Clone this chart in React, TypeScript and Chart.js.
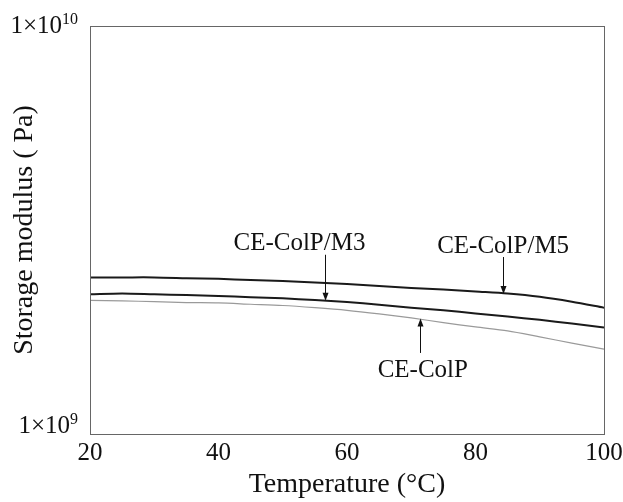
import React, { useEffect, useRef } from 'react';
import { Chart, registerables } from 'chart.js';

Chart.register(...registerables);

const temperatures = [20, 25, 30, 35, 40, 45, 50, 55, 60, 65, 70, 75, 80, 85, 90, 95, 100];
const modulusM5 = [2.42e9, 2.42e9, 2.42e9, 2.41e9, 2.40e9, 2.385e9, 2.37e9, 2.35e9, 2.33e9, 2.305e9, 2.28e9, 2.26e9, 2.235e9, 2.21e9, 2.17e9, 2.11e9, 2.04e9];
const modulusM3 = [2.20e9, 2.21e9, 2.20e9, 2.19e9, 2.18e9, 2.165e9, 2.15e9, 2.13e9, 2.105e9, 2.075e9, 2.04e9, 2.01e9, 1.975e9, 1.94e9, 1.905e9, 1.865e9, 1.825e9];
const modulusColP = [2.125e9, 2.12e9, 2.11e9, 2.10e9, 2.095e9, 2.08e9, 2.065e9, 2.04e9, 2.01e9, 1.97e9, 1.925e9, 1.875e9, 1.83e9, 1.79e9, 1.73e9, 1.67e9, 1.615e9];

const seriesNames = ['CE-ColP/M5', 'CE-ColP/M3', 'CE-ColP'];
const xTicks = [20, 40, 60, 80, 100];
const yTicks = [1e9, 1e10];
const yTickBase = ['1×10', '1×10'];
const yTickExponent = ['9', '10'];

// annotation: label position (x, y baseline value), arrow x, arrow tail value, arrow tip value
const annotationTexts = ['CE-ColP/M3', 'CE-ColP/M5', 'CE-ColP'];
const annotationLabelX = [52.6, 84.3, 71.8];
const annotationLabelY = [2.825e9, 2.777e9, 1.38e9];
const annotationArrowX = [56.5, 84.3, 71.4];
const annotationArrowFrom = [2.75e9, 2.715e9, 1.58e9];
const annotationArrowTo = [2.12e9, 2.205e9, 1.92e9];

const FONT = "'Liberation Serif', 'Times New Roman', serif";

const toPoints = (vals: number[]) => temperatures.map((t, i) => ({ x: t, y: vals[i] }));

const annotationPlugin = {
  id: 'arrowLabels',
  afterDatasetsDraw(chart: any) {
    const { ctx, scales } = chart;
    const xs = scales.x;
    const ys = scales.y;
    ctx.save();
    ctx.fillStyle = '#111';
    ctx.strokeStyle = '#111';
    ctx.lineWidth = 1;
    ctx.font = `25px ${FONT}`;
    ctx.textAlign = 'center';
    ctx.textBaseline = 'alphabetic';
    for (let i = 0; i < annotationTexts.length; i++) {
      ctx.fillText(annotationTexts[i], xs.getPixelForValue(annotationLabelX[i]), ys.getPixelForValue(annotationLabelY[i]));
      const ax = Math.round(xs.getPixelForValue(annotationArrowX[i])) + 0.5;
      const y0 = ys.getPixelForValue(annotationArrowFrom[i]);
      const y1 = ys.getPixelForValue(annotationArrowTo[i]);
      const dir = y1 > y0 ? 1 : -1;
      ctx.beginPath();
      ctx.moveTo(ax, y0);
      ctx.lineTo(ax, y1 - dir * 2);
      ctx.stroke();
      ctx.beginPath();
      ctx.moveTo(ax, y1);
      ctx.lineTo(ax - 3, y1 - dir * 8);
      ctx.lineTo(ax + 3, y1 - dir * 8);
      ctx.closePath();
      ctx.fill();
    }
    ctx.restore();
  },
};

// y tick labels with a real superscript exponent
const yLabelPlugin = {
  id: 'yPowerLabels',
  afterDraw(chart: any) {
    const { ctx, scales, chartArea } = chart;
    const ys = scales.y;
    const rightEdge = chartArea.left - 12;
    const baselineShift = [-1, 7];
    ctx.save();
    ctx.fillStyle = '#111';
    ctx.textBaseline = 'alphabetic';
    ctx.textAlign = 'left';
    for (let i = 0; i < yTicks.length; i++) {
      const base = ys.getPixelForValue(yTicks[i]) + baselineShift[i];
      ctx.font = `16px ${FONT}`;
      const expW = ctx.measureText(yTickExponent[i]).width;
      ctx.font = `25px ${FONT}`;
      const baseW = ctx.measureText(yTickBase[i]).width;
      const startX = rightEdge - expW - baseW;
      ctx.fillText(yTickBase[i], startX, base);
      ctx.font = `16px ${FONT}`;
      ctx.fillText(yTickExponent[i], startX + baseW, base - 9);
    }
    ctx.restore();
  },
};

const framePlugin = {
  id: 'frame',
  afterDraw(chart: any) {
    const { ctx, chartArea } = chart;
    ctx.save();
    ctx.strokeStyle = '#666';
    ctx.lineWidth = 1;
    ctx.strokeRect(Math.round(chartArea.left) + 0.5, Math.round(chartArea.top) + 0.5, Math.round(chartArea.right - chartArea.left), Math.round(chartArea.bottom - chartArea.top));
    ctx.restore();
  },
};

export default function App() {
  const canvasRef = useRef<HTMLCanvasElement | null>(null);

  useEffect(() => {
    if (!canvasRef.current) return;
    const chart = new Chart(canvasRef.current, {
      type: 'line',
      data: {
        datasets: [
          { label: seriesNames[0], data: toPoints(modulusM5), borderColor: '#1a1a1a', borderWidth: 2, pointRadius: 0, tension: 0.3 },
          { label: seriesNames[1], data: toPoints(modulusM3), borderColor: '#1a1a1a', borderWidth: 2, pointRadius: 0, tension: 0.3 },
          { label: seriesNames[2], data: toPoints(modulusColP), borderColor: '#9a9a9a', borderWidth: 1.2, pointRadius: 0, tension: 0.3 },
        ],
      },
      options: {
        responsive: false,
        animation: false,
        layout: { padding: { left: 0, right: 19, top: 26, bottom: 0 } },
        plugins: { legend: { display: false }, tooltip: { enabled: false } },
        scales: {
          x: {
            type: 'linear',
            min: 20,
            max: 100,
            grid: { display: false, drawTicks: false },
            border: { display: false },
            afterBuildTicks: (axis: any) => { axis.ticks = xTicks.map((v) => ({ value: v })); },
            afterFit: (axis: any) => { axis.height = 68; axis.paddingLeft = 0; axis.paddingRight = 0; },
            ticks: { color: '#111', font: { family: FONT, size: 25 }, padding: 4, maxRotation: 0 },
            title: { display: true, text: 'Temperature (°C)', color: '#111', font: { family: FONT, size: 28 }, padding: { top: 0, bottom: 1 } },
          },
          y: {
            type: 'logarithmic',
            min: 1e9,
            max: 1e10,
            grid: { display: false, drawTicks: false },
            border: { display: false },
            afterBuildTicks: (axis: any) => { axis.ticks = yTicks.map((v) => ({ value: v })); },
            afterFit: (axis: any) => { axis.width = 90; axis.paddingTop = 0; axis.paddingBottom = 0; },
            ticks: { display: false },
            title: { display: true, text: 'Storage modulus ( Pa)', color: '#111', font: { family: FONT, size: 28 }, padding: { top: 8, bottom: 0 } },
          },
        },
      },
      plugins: [annotationPlugin, yLabelPlugin, framePlugin],
    });
    return () => chart.destroy();
  }, []);

  return (
    <div style={{ position: 'fixed', left: 0, top: 0, width: 623, height: 502, background: '#fff' }}>
      <canvas ref={canvasRef} width={623} height={502} />
    </div>
  );
}
